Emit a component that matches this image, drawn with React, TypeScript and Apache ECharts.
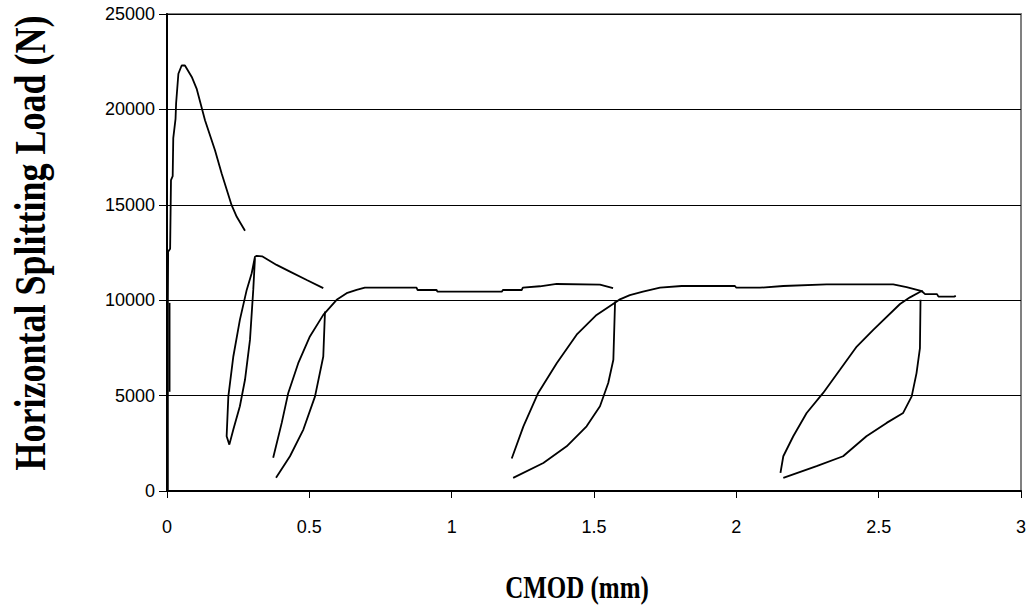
import React, { useEffect, useRef } from "react";
import * as echarts from "echarts";

// CMOD (mm), load (N) pairs
const initialLoading: number[][] = [
  [0.003, 0], [0.003, 5200], [0.003, 9900], [0.004, 12540], [0.011, 12700],
  [0.014, 16290], [0.02, 16500], [0.022, 18490], [0.03, 19500], [0.032, 20320],
  [0.04, 21870], [0.0515, 22300], [0.063, 22300], [0.087, 21700], [0.104, 21090],
  [0.1335, 19430], [0.1686, 17860], [0.192, 16640], [0.227, 14980], [0.245, 14370],
  [0.274, 13640],
];
const initialOffset: number[][] = [[0.009, 5200], [0.009, 9860]];
const cycle1: number[][] = [
  [0.309, 12200], [0.303, 10540], [0.2915, 7920], [0.274, 5830], [0.256, 4440],
  [0.233, 3220], [0.219, 2430], [0.2095, 2870], [0.2155, 4960], [0.233, 7050],
  [0.256, 8970], [0.28, 10540], [0.2975, 11410], [0.309, 12280], [0.315, 12320],
  [0.334, 12300], [0.385, 11850], [0.432, 11500], [0.491, 11060], [0.549, 10630],
];
const unload2: number[][] = [
  [0.555, 9400], [0.549, 7050], [0.52, 4960], [0.479, 3220], [0.432, 1820], [0.383, 690],
];
const reload2: number[][] = [
  [0.373, 1740], [0.403, 3570], [0.426, 5140], [0.461, 6700], [0.502, 8100],
  [0.549, 9230], [0.596, 10020], [0.631, 10370], [0.666, 10540], [0.695, 10655],
  [0.877, 10655], [0.88, 10535], [0.947, 10535], [0.95, 10445], [1.176, 10445],
  [1.18, 10535], [1.246, 10535], [1.25, 10655], [1.31, 10730], [1.369, 10850],
  [1.521, 10820], [1.567, 10630],
];
const unload3: number[][] = [
  [1.574, 9930], [1.568, 6880], [1.55, 5660], [1.521, 4440], [1.474, 3390],
  [1.404, 2340], [1.322, 1470], [1.216, 690],
];
const reload3: number[][] = [
  [1.211, 1700], [1.252, 3390], [1.304, 5140], [1.369, 6700], [1.439, 8190],
  [1.509, 9230], [1.58, 9930], [1.591, 10047], [1.626, 10270], [1.672, 10445],
  [1.732, 10655], [1.808, 10745], [1.995, 10745], [2.0, 10655], [2.083, 10655],
  [2.165, 10745], [2.317, 10833], [2.551, 10833], [2.598, 10690], [2.645, 10500],
  [2.655, 10450],
];
const unload4: number[][] = [
  [2.647, 10020], [2.645, 7490], [2.633, 6180], [2.616, 4960], [2.586, 4090],
  [2.528, 3570], [2.457, 2870], [2.375, 1820], [2.282, 1300], [2.165, 690],
];
const reload4: number[][] = [
  [2.155, 950], [2.165, 1820], [2.2, 2870], [2.247, 4090], [2.305, 5140],
  [2.364, 6350], [2.423, 7570], [2.481, 8450], [2.575, 9800], [2.61, 10150],
  [2.651, 10480], [2.663, 10320], [2.705, 10320], [2.71, 10190], [2.765, 10190],
  [2.771, 10230],
];

const segments = [initialLoading, initialOffset, cycle1, unload2, reload2, unload3, reload3, unload4, reload4];

const xTicks = [0, 0.5, 1, 1.5, 2, 2.5, 3];
const yTicks = [0, 5000, 10000, 15000, 20000, 25000];

export default function App() {
  const ref = useRef<HTMLDivElement>(null);
  useEffect(() => {
    if (!ref.current) return;
    const chart = echarts.init(ref.current, undefined, { renderer: "svg" });
    const labelFont = { color: "#000", fontFamily: "Liberation Sans", fontSize: 18 };
    chart.setOption({
      animation: false,
      backgroundColor: "#fff",
      grid: {
        left: 167, right: 11, top: 14, bottom: 115,
        show: true, borderColor: "#808080", borderWidth: 2, backgroundColor: "transparent",
      },
      xAxis: {
        type: "value",
        min: xTicks[0], max: xTicks[xTicks.length - 1], interval: 0.5,
        axisLine: { show: true, onZero: false, lineStyle: { color: "#000", width: 2 } },
        axisTick: { show: true, length: 7, lineStyle: { color: "#000", width: 1 } },
        splitLine: { show: false },
        axisLabel: { ...labelFont, margin: 27, formatter: (v: number) => String(v) },
      },
      yAxis: {
        type: "value",
        min: yTicks[0], max: yTicks[yTicks.length - 1], interval: 5000,
        axisLine: { show: true, onZero: false, lineStyle: { color: "#000", width: 2 } },
        axisTick: { show: true, length: 8, lineStyle: { color: "#000", width: 1 } },
        splitLine: { show: true, lineStyle: { color: "#000", width: 1 } },
        axisLabel: { ...labelFont, margin: 12, formatter: (v: number) => String(v) },
      },
      graphic: [
        {
          type: "text", x: 30, y: 243, rotation: Math.PI / 2, scaleY: 1.25,
          style: {
            text: "Horizontal Splitting Load (N)",
            font: 'bold 36px "Liberation Serif"', fill: "#000",
            textAlign: "center", textVerticalAlign: "middle",
          },
        },
        {
          type: "text", x: 577, y: 588, scaleY: 1.25,
          style: {
            text: "CMOD (mm)",
            font: 'bold 25px "Liberation Serif"', fill: "#000",
            textAlign: "center", textVerticalAlign: "middle",
          },
        },
      ],
      series: segments.map((seg, i) => ({
        type: "line",
        name: "s" + i,
        data: seg,
        showSymbol: false,
        symbol: "none",
        smooth: false,
        lineStyle: { color: "#000", width: 1.8 },
        z: 3,
      })),
    });
    return () => chart.dispose();
  }, []);
  return (
    <div
      ref={ref}
      style={{ position: "fixed", left: 0, top: 0, width: 1032, height: 606, background: "#fff" }}
    />
  );
}
